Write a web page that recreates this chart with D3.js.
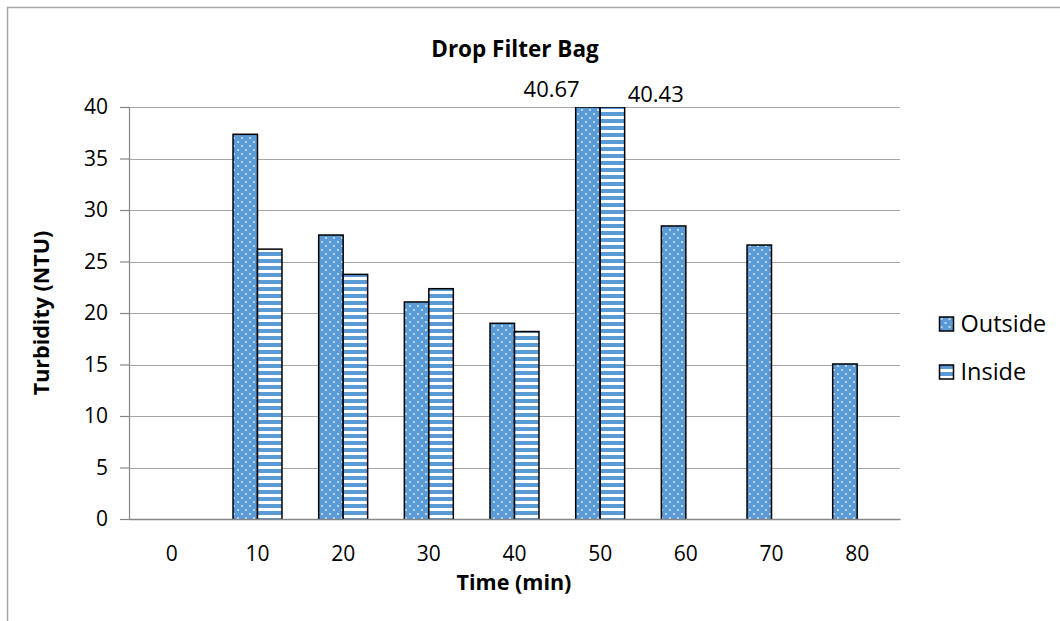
<!DOCTYPE html>
<html>
<head>
<meta charset="utf-8">
<script src="https://cdn.jsdelivr.net/npm/d3@7"></script>
<style>
  html, body { margin: 0; padding: 0; background: #fff; }
  svg { display: block; font-family: "Open Sans", Lato, sans-serif; }
</style>
</head>
<body>
<div id="chart"></div>
<script>
// chart data
const times = [0, 10, 20, 30, 40, 50, 60, 70, 80];
const outside = [null, 37.35, 27.57, 21.07, 19.0, 40.67, 28.45, 26.6, 15.05];
const inside = [null, 26.2, 23.75, 22.36, 18.2, 40.43, null, null, null];
const seriesNames = ['Outside', 'Inside'];
const yTicks = [0, 5, 10, 15, 20, 25, 30, 35, 40];

const W = 1060, H = 621;
const margin = { left: 129, right: 160, top: 107, bottom: 102 };

const svg = d3.select('#chart')
    .append('svg')
    .attr('width', W)
    .attr('height', H);

// patterns: dotted for outside, horizontal stripes for inside
const defs = svg.append('defs');
const dots = defs.append('pattern')
    .attr('id', 'pDots')
    .attr('patternUnits', 'userSpaceOnUse')
    .attr('width', 8).attr('height', 8);
dots.append('rect').attr('width', 8).attr('height', 8).attr('fill', '#5B9BD5');
dots.append('circle').attr('cx', 2).attr('cy', 2).attr('r', 0.9).attr('fill', '#e8f1fb');
dots.append('circle').attr('cx', 6).attr('cy', 6).attr('r', 0.9).attr('fill', '#e8f1fb');

const stripes = defs.append('pattern')
    .attr('id', 'pStripes')
    .attr('patternUnits', 'userSpaceOnUse')
    .attr('width', 8).attr('height', 7);
stripes.append('rect').attr('width', 8).attr('height', 7).attr('fill', '#5B9BD5');
stripes.append('rect').attr('y', 4).attr('width', 8).attr('height', 3).attr('fill', '#fff');

const fills = ['url(#pDots)', 'url(#pStripes)'];

// chart frame (runs off the right and bottom edges)
svg.append('rect')
    .attr('x', 7.5).attr('y', 7.5)
    .attr('width', W + 40).attr('height', H + 40)
    .attr('fill', 'none')
    .attr('stroke', '#a6a6a6')
    .attr('stroke-width', 1.5);

const innerW = W - margin.left - margin.right;
const innerH = H - margin.top - margin.bottom;

const x = d3.scaleBand()
    .domain(times)
    .range([margin.left, margin.left + innerW]);

// Excel gap width 150%: bar = band / 3.5
const barW = x.bandwidth() / 3.5;

const y = d3.scaleLinear()
    .domain([0, 40])
    .range([margin.top + innerH, margin.top]);

// gridlines
svg.append('g')
    .selectAll('line')
    .data(yTicks.filter(d => d > 0))
    .join('line')
    .attr('x1', margin.left).attr('x2', margin.left + innerW)
    .attr('y1', d => Math.round(y(d)) + 0.5)
    .attr('y2', d => Math.round(y(d)) + 0.5)
    .attr('stroke', '#a6a6a6')
    .attr('stroke-width', 1.2);

svg.append('clipPath').attr('id', 'plotClip')
    .append('rect')
    .attr('x', margin.left).attr('y', margin.top)
    .attr('width', innerW).attr('height', innerH);

const series = [outside, inside];
const barsG = svg.append('g').attr('clip-path', 'url(#plotClip)');
series.forEach((vals, si) => {
    barsG.append('g')
        .selectAll('rect')
        .data(times.map((t, i) => ({ t, v: vals[i] })).filter(d => d.v != null))
        .join('rect')
        .attr('x', d => x(d.t) + x.bandwidth() / 2 - barW + si * barW)
        .attr('width', barW)
        .attr('y', d => y(Math.min(d.v, 40)))
        .attr('height', d => y(0) - y(Math.min(d.v, 40)) + 2)
        .attr('fill', fills[si])
        .attr('stroke', '#000')
        .attr('stroke-width', 1.5);
});

// y axis
const yAxis = svg.append('g')
    .attr('transform', `translate(${margin.left},0)`)
    .call(d3.axisLeft(y).tickValues(yTicks).tickSize(9).tickPadding(12));
yAxis.select('.domain').attr('stroke', '#868686').attr('stroke-width', 1.2);
yAxis.selectAll('.tick line').attr('stroke', '#868686').attr('stroke-width', 1.2);
yAxis.selectAll('.tick text')
    .attr('font-size', 21).attr('fill', '#000')
    .attr('font-family', '"Open Sans", sans-serif');

// x axis
const xAxis = svg.append('g')
    .attr('transform', `translate(0,${y(0)})`)
    .call(d3.axisBottom(x).tickSize(0).tickPadding(27).tickSizeOuter(0));
xAxis.select('.domain').attr('stroke', '#868686').attr('stroke-width', 1.5);
xAxis.selectAll('.tick text')
    .attr('font-size', 21).attr('fill', '#000')
    .attr('font-family', '"Open Sans", sans-serif');

// value labels for the clipped bars at 50 min
const i50 = times.indexOf(50);
svg.append('text')
    .attr('x', x(50) + x.bandwidth() / 2 - barW + 4)
    .attr('y', y(40) - 10)
    .attr('text-anchor', 'end')
    .attr('font-size', 22)
    .text(outside[i50].toFixed(2));
svg.append('text')
    .attr('x', x(50) + x.bandwidth() / 2 + barW + 3)
    .attr('y', y(40) - 5)
    .attr('text-anchor', 'start')
    .attr('font-size', 22)
    .text(inside[i50].toFixed(2));

// titles
svg.append('text')
    .attr('x', 515).attr('y', 57)
    .attr('text-anchor', 'middle')
    .attr('font-size', 22.5).attr('font-weight', 'bold')
    .text('Drop Filter Bag');

svg.append('text')
    .attr('x', 514).attr('y', 590)
    .attr('text-anchor', 'middle')
    .attr('font-size', 21.5).attr('font-weight', 'bold')
    .text('Time (min)');

svg.append('text')
    .attr('transform', `translate(49,313) rotate(-90)`)
    .attr('text-anchor', 'middle')
    .attr('font-size', 21.5).attr('font-weight', 'bold')
    .text('Turbidity (NTU)');

// legend
const legend = svg.append('g')
    .selectAll('g')
    .data(seriesNames)
    .join('g')
    .attr('transform', (d, i) => `translate(939.5,${317 + i * 48})`);
legend.append('rect')
    .attr('width', 14).attr('height', 14)
    .attr('fill', (d, i) => fills[i])
    .attr('stroke', '#000').attr('stroke-width', 1.5);
legend.append('text')
    .attr('x', 21).attr('y', 14.5)
    .attr('font-size', 23.5)
    .text(d => d);
</script>
</body>
</html>
